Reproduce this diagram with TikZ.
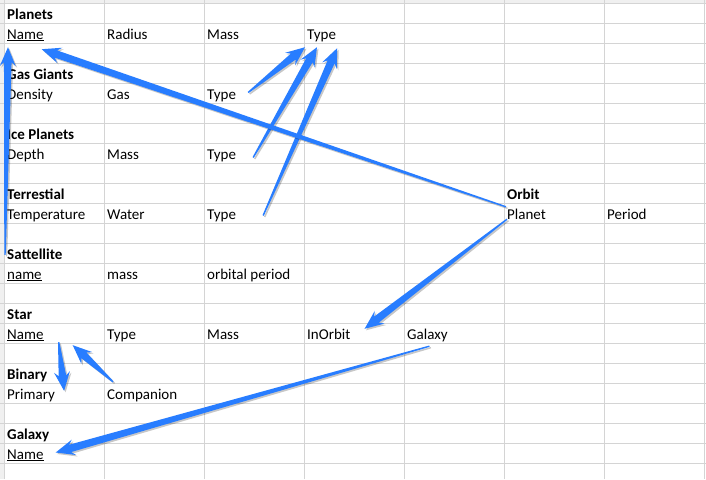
\documentclass[tikz,border=0pt]{standalone}
\usepackage{fontspec}
\setmainfont{Carlito}
\usetikzlibrary{calc}
\definecolor{arrowblue}{RGB}{40,125,255}
\definecolor{gridgray}{RGB}{212,212,212}

% tapered arrow from tail #1 to tip #2
\newcommand{\blueArrow}[2]{%
  \coordinate (ta) at (#1);
  \coordinate (tp) at (#2);
  \coordinate (hb) at ($(tp)!15pt!(ta)$);
  \coordinate (bb) at ($(tp)!19pt!(ta)$);
  \foreach \sty in {arrowshadow,arrowbody}
    \fill[\sty] ($(ta)!0.7pt!90:(tp)$) -- ($(hb)!3.8pt!90:(tp)$) -- ($(bb)!8pt!90:(tp)$) -- (tp)
      -- ($(bb)!8pt!-90:(tp)$) -- ($(hb)!3.8pt!-90:(tp)$) -- ($(ta)!0.7pt!-90:(tp)$) -- cycle;
}

\begin{document}
\begin{tikzpicture}[x=1pt,y=-1pt,
  cell/.style={anchor=base west,inner sep=0pt,text height=10pt,text depth=3pt,
    font=\fontsize{15}{17}\selectfont},
  head/.style={cell,font=\fontsize{15}{17}\selectfont\bfseries},
  grid/.style={gridgray,line width=1pt},
  arrowbody/.style={fill=arrowblue},
  arrowshadow/.style={fill=black,opacity=0.22,transform canvas={xshift=1.5pt,yshift=-1.5pt}}]
\useasboundingbox (0,0) rectangle (706,479);
\fill[white] (0,0) rectangle (706,479);
\fill[gray!12] (0,0) rectangle (4,479);
\fill[gray!12] (0,0) rectangle (706,3);
% sheet grid
\foreach \c in {0,...,7}
  \draw[grid] (4+100*\c,0) -- (4+100*\c,479);
\foreach \r in {0,...,23}
  \draw[grid] (0,3+20*\r) -- (706,3+20*\r);

% Planets
\node[head] (pTitle) at (7,19) {Planets};
\node[cell] (pName) at (7,39) {\underline{Name}};
\node[cell] (pRadius) at (107,39) {Radius};
\node[cell] (pMass) at (207,39) {Mass};
\node[cell] (pType) at (307,39) {Type};
% Gas Giants
\node[head] (gTitle) at (7,79) {Gas Giants};
\node[cell] (gDensity) at (7,99) {Density};
\node[cell] (gGas) at (107,99) {Gas};
\node[cell] (gType) at (207,99) {Type};
% Ice Planets
\node[head] (iTitle) at (7,139) {Ice Planets};
\node[cell] (iDepth) at (7,159) {Depth};
\node[cell] (iMass) at (107,159) {Mass};
\node[cell] (iType) at (207,159) {Type};
% Terrestial
\node[head] (tTitle) at (7,199) {Terrestial};
\node[cell] (tTemp) at (7,219) {Temperature};
\node[cell] (tWater) at (107,219) {Water};
\node[cell] (tType) at (207,219) {Type};
% Orbit
\node[head] (oTitle) at (507,199) {Orbit};
\node[cell] (oPlanet) at (507,219) {Planet};
\node[cell] (oPeriod) at (607,219) {Period};
% Sattellite
\node[head] (sTitle) at (7,259) {Sattellite};
\node[cell] (sName) at (7,279) {\underline{name}};
\node[cell] (sMass) at (107,279) {mass};
\node[cell] (sPeriod) at (207,279) {orbital period};
% Star
\node[head] (stTitle) at (7,319) {Star};
\node[cell] (stName) at (7,339) {\underline{Name}};
\node[cell] (stType) at (107,339) {Type};
\node[cell] (stMass) at (207,339) {Mass};
\node[cell] (stInOrbit) at (307,339) {InOrbit};
\node[cell] (stGalaxy) at (407,339) {Galaxy};
% Binary
\node[head] (bTitle) at (7,379) {Binary};
\node[cell] (bPrimary) at (7,399) {Primary};
\node[cell] (bCompanion) at (107,399) {Companion};
% Galaxy
\node[head] (gxTitle) at (7,439) {Galaxy};
\node[cell] (gxName) at (7,459) {\underline{Name}};

% links
\blueArrow{[xshift=12pt,yshift=3pt]gType.east}{[xshift=-2pt,yshift=-5pt]pType.south west}
\blueArrow{[xshift=17pt,yshift=-2pt]iType.east}{[xshift=10pt,yshift=-5pt]pType.south west}
\blueArrow{[xshift=27pt]tType.east}{[xshift=1pt,yshift=-6pt]pType.south east}
\blueArrow{[xshift=-1pt,yshift=2pt]oPlanet.north west}{[xshift=-2pt,yshift=-7pt]pName.south east}
\blueArrow{[yshift=3pt]oPlanet.south west}{[xshift=14pt]stInOrbit.north east}
\blueArrow{[xshift=2pt,yshift=-4pt]stGalaxy.south}{[xshift=12pt,yshift=3pt]gxName.east}
\blueArrow{[xshift=-2pt,yshift=-6pt]sTitle.north west}{[xshift=1pt,yshift=-5pt]pName.south west}
\blueArrow{[xshift=15pt]stName.south east}{[xshift=9pt,yshift=-2pt]bPrimary.north east}
\blueArrow{[xshift=6pt,yshift=7pt]bCompanion.north west}{[xshift=29pt,yshift=-3pt]stName.south east}
\end{tikzpicture}
\end{document}
